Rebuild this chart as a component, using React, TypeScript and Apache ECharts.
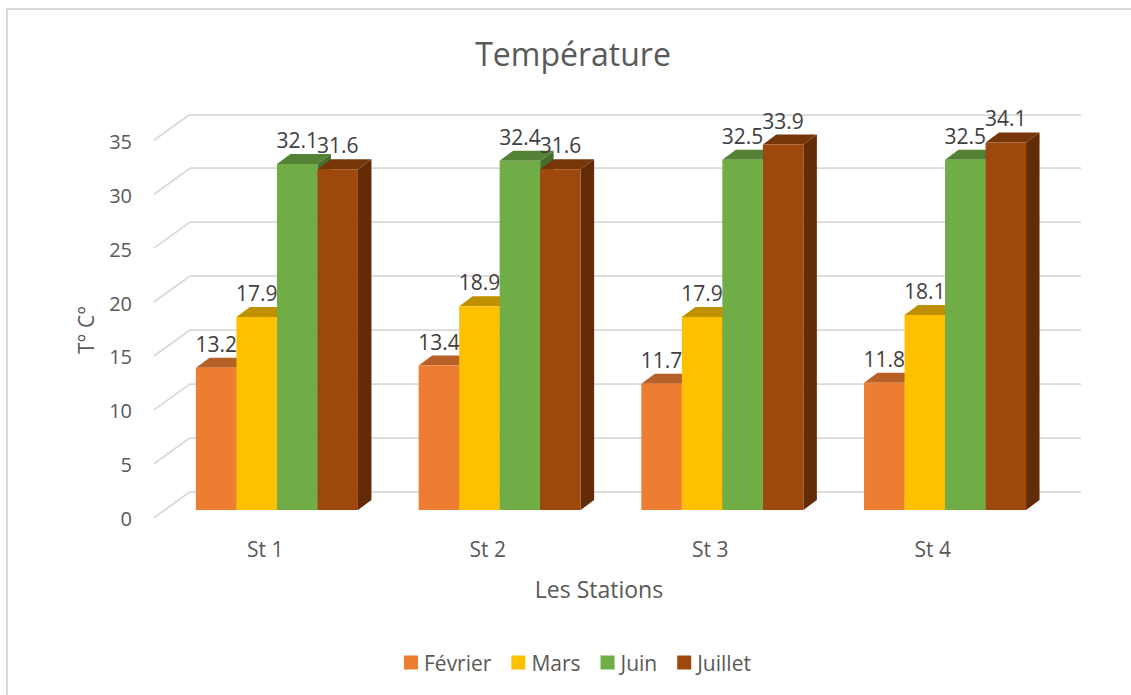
import React, { useEffect, useRef } from "react";
import * as echarts from "echarts";

const titleText = "Température";
const stations = ["St 1", "St 2", "St 3", "St 4"];
const fevrier = [13.2, 13.4, 11.7, 11.8];
const mars = [17.9, 18.9, 17.9, 18.1];
const juin = [32.1, 32.4, 32.5, 32.5];
const juillet = [31.6, 31.6, 33.9, 34.1];
const yTicks = [0, 5, 10, 15, 20, 25, 30, 35];

const FONT = "Open Sans";
const TEXT = "#595959";
const LABEL = "#404040";
const GRID = "#d9d9d9";
const BAR_W = 40.5;
const DX = 13.5;
const DY = 10;

const seriesDefs = [
  { name: "Février", values: fevrier, color: "#ED7D31", top: "#B86127", side: "#A8581F" },
  { name: "Mars", values: mars, color: "#FFC000", top: "#BF9000", side: "#A67C00" },
  { name: "Juin", values: juin, color: "#70AD47", top: "#548235", side: "#466E2C" },
  { name: "Juillet", values: juillet, color: "#9E480E", top: "#763609", side: "#632C06" },
];

function barSeries(def: (typeof seriesDefs)[number], idx: number) {
  return {
    name: def.name,
    type: "custom",
    xAxisIndex: 0,
    yAxisIndex: 0,
    coordinateSystem: "cartesian2d",
    itemStyle: { color: def.color },
    encode: { x: 0, y: 1 },
    data: def.values.map((v, i) => [i, v]),
    clip: false,
    renderItem: (_p: any, api: any) => {
      const cat = api.value(0);
      const val = api.value(1);
      const top = api.coord([cat, val]);
      const base = api.coord([cat, 0]);
      const x = top[0] - 2 * BAR_W + idx * BAR_W;
      const y = top[1];
      const y0 = base[1];
      const w = BAR_W;
      return {
        type: "group",
        children: [
          {
            type: "polygon",
            shape: { points: [[x + w, y], [x + w + DX, y - DY], [x + w + DX, y0 - DY], [x + w, y0]] },
            style: { fill: def.side },
          },
          {
            type: "polygon",
            shape: { points: [[x, y], [x + DX, y - DY], [x + w + DX, y - DY], [x + w, y]] },
            style: { fill: def.top },
          },
          {
            type: "rect",
            shape: { x, y, width: w, height: y0 - y },
            style: { fill: def.color },
          },
          {
            type: "text",
            style: {
              text: val.toFixed(1),
              x: x + w / 2,
              y: y - 24,
              fill: LABEL,
              font: `21px "${FONT}"`,
              align: "center",
              verticalAlign: "middle",
            },
          },
        ],
      };
    },
  };
}

const hiddenAxis = { axisLine: { show: false }, axisTick: { show: false }, axisLabel: { show: false }, splitLine: { show: false } };

export default function App() {
  const ref = useRef<HTMLDivElement>(null);
  useEffect(() => {
    const chart = echarts.init(ref.current!, undefined, { renderer: "svg" });
    chart.setOption({
      animation: false,
      backgroundColor: "#ffffff",
      textStyle: { fontFamily: FONT },
      title: {
        text: titleText,
        left: 568,
        top: 32,
        textAlign: "center",
        textStyle: { fontFamily: FONT, fontSize: 32, fontWeight: "normal", color: TEXT },
      },
      legend: {
        left: 399,
        top: 647,
        icon: "rect",
        itemWidth: 14,
        itemHeight: 14,
        itemGap: 20,
        data: seriesDefs.map((d) => d.name),
        textStyle: { fontFamily: FONT, fontSize: 21, color: TEXT, padding: [0, 0, 0, 1] },
      },
      grid: [
        { left: 165.6, width: 890.8, top: 132.7, height: 377.3 },
        { left: 190, width: 891, top: 114.3, height: 377.4 },
        { left: 154, width: 890, top: 141.6, height: 376.6 },
      ],
      xAxis: [
        { gridIndex: 0, type: "category", data: stations, ...hiddenAxis },
        { gridIndex: 1, type: "value", min: 0, max: 1, ...hiddenAxis },
        {
          gridIndex: 2,
          type: "category",
          data: stations,
          axisLine: { show: false },
          axisTick: { show: false },
          splitLine: { show: false },
          axisLabel: { fontFamily: FONT, fontSize: 21, color: TEXT, margin: 20 },
          name: "Les Stations",
          nameLocation: "middle",
          nameGap: 59,
          nameTextStyle: { fontFamily: FONT, fontSize: 23, color: TEXT },
        },
      ],
      yAxis: [
        { gridIndex: 0, type: "value", min: 0, max: 35, interval: 5, ...hiddenAxis },
        {
          gridIndex: 1,
          type: "value",
          min: 0,
          max: 35,
          interval: 5,
          ...hiddenAxis,
          splitLine: { show: true, lineStyle: { color: GRID, width: 1.75 } },
        },
        {
          gridIndex: 2,
          type: "value",
          min: 0,
          max: 35,
          interval: 5,
          axisLine: { show: false },
          axisTick: { show: false },
          splitLine: { show: false },
          axisLabel: { fontFamily: FONT, fontSize: 20, color: TEXT, margin: 22 },
          name: "T° C°",
          nameLocation: "middle",
          nameRotate: 90,
          nameGap: 58,
          nameTextStyle: { fontFamily: FONT, fontSize: 21, color: TEXT },
        },
      ],
      series: [
        {
          name: "wall",
          type: "custom",
          xAxisIndex: 1,
          yAxisIndex: 1,
          data: yTicks.map((t) => [0, t]),
          encode: { x: 0, y: 1 },
          clip: false,
          silent: true,
          renderItem: (_p: any, api: any) => {
            const c = api.coord([0, api.value(1)]);
            return {
              type: "line",
              shape: { x1: c[0], y1: c[1], x2: c[0] - 36, y2: c[1] + 26 },
              style: { stroke: GRID, lineWidth: 1.75 },
            };
          },
        },
        ...seriesDefs.map((d, i) => barSeries(d, i)),
      ],
      graphic: [
        { type: "line", silent: true, shape: { x1: 7, y1: 9, x2: 1131, y2: 9 }, style: { stroke: GRID, lineWidth: 2 } },
        { type: "line", silent: true, shape: { x1: 7, y1: 8, x2: 7, y2: 695 }, style: { stroke: GRID, lineWidth: 2 } },
      ],
    });
    return () => chart.dispose();
  }, []);
  return <div ref={ref} style={{ position: "fixed", left: 0, top: 0, width: 1131, height: 695 }} />;
}
